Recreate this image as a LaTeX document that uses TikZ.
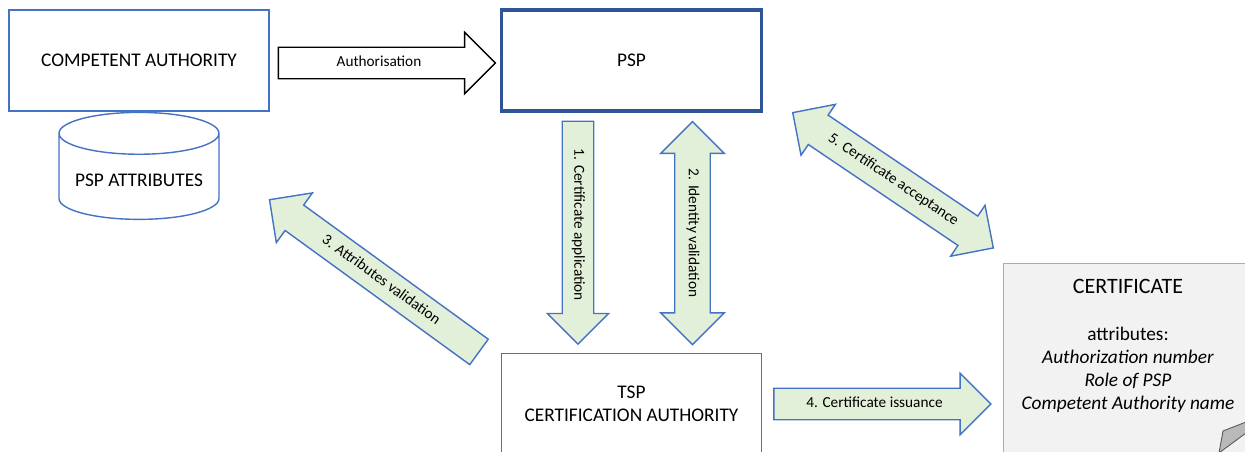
\documentclass[tikz,border=0pt]{standalone}
\usepackage{fontspec}
\setmainfont{Carlito}
\usetikzlibrary{positioning,calc,shapes.arrows,shapes.geometric}

\definecolor{boxblue}{HTML}{4472C4}
\definecolor{pspblue}{HTML}{2F5597}
\definecolor{palegreen}{HTML}{E2EFD9}
\definecolor{pagegray}{HTML}{F2F2F2}

\tikzset{
  entity/.style={draw=boxblue, line width=0.8pt, minimum width=5.2cm, minimum height=2.02cm,
    align=center, font=\fontsize{11}{13}\selectfont},
  store/.style={cylinder, shape border rotate=90, aspect=0.3, draw=boxblue, line width=0.8pt,
    minimum width=3.2cm, minimum height=2.14cm, font=\fontsize{11}{13}\selectfont},
  flow/.style={single arrow, draw=boxblue, fill=palegreen, line width=0.8pt,
    font=\fontsize{8.7}{10}\selectfont, text height=6pt, text depth=2pt,
    inner ysep=0.16cm, inner xsep=2pt, single arrow head extend=0.3cm},
  twoway/.style={double arrow, draw=boxblue, fill=palegreen, line width=0.8pt,
    font=\fontsize{8.7}{10}\selectfont, text height=6pt, text depth=2pt,
    inner ysep=0.2cm, inner xsep=2pt, double arrow head extend=0.28cm},
  page/.style={draw=gray!65, fill=pagegray, line width=0.8pt, minimum width=5.6cm, minimum height=4.2cm}
}

\begin{document}
\begin{tikzpicture}[x=0.02cm,y=-0.02cm]
\useasboundingbox (0,0) rectangle (1245,452);
\clip (0,0) rectangle (1245,452);

  \node[entity] (ca) at (139,60.5) {COMPETENT AUTHORITY};
  \node[entity, draw=pspblue, line width=1.8pt] (psp) at (631.5,60.5) {PSP};
  \node[store, below=0pt of ca] (attr) {PSP ATTRIBUTES};
  \node[entity] (tsp) at (631.5,404) {TSP\\CERTIFICATION AUTHORITY};

  \node[page, anchor=north west] (cert) at (1003,263) {};
  \node[anchor=north, align=center, font=\fontsize{11}{13}\selectfont] (certtxt) at (1128,273)
    {{\fontsize{12.5}{13}\selectfont CERTIFICATE}\\[14pt]
     attributes:\\ \textit{Authorization number}\\ \textit{Role of PSP}\\ \textit{Competent Authority name}};
  \draw[draw=gray!70!black, fill=gray!55, line width=0.5pt]
    (1223,431) -- (1246,422) -- (1246,433) -- (1219,453) -- cycle;

  \node[flow, fill=white, draw=black, minimum height=4.34cm, anchor=tail] (authar) at ($(ca.east)+(8,2.5)$) {Authorisation};
  \node[flow, rotate=-90, minimum height=4.46cm, anchor=tail] (apply) at ($(psp.south)+(-53.5,8)$) {1. Certificate application};
  \node[twoway, rotate=-90, minimum height=4.46cm] (ident) at ($(psp.south)+(61,120.5)$) {2. Identity validation};
  \node[flow, shape border rotate=180, rotate=-36, minimum height=5.18cm, anchor=tip] (check) at ($(attr.east)+(49,18.5)$) {3. Attributes validation};
  \node[flow, minimum height=4.34cm, anchor=tail] (issue) at ($(tsp.east)+(11,0)$) {4. Certificate issuance};
  \node[twoway, rotate=-34, minimum height=4.84cm, double arrow head extend=0.26cm] (accept)
    at ($(psp.south east)!0.5!(cert.north west)+(10,-7.5)$) {5. Certificate acceptance};
\end{tikzpicture}
\end{document}
